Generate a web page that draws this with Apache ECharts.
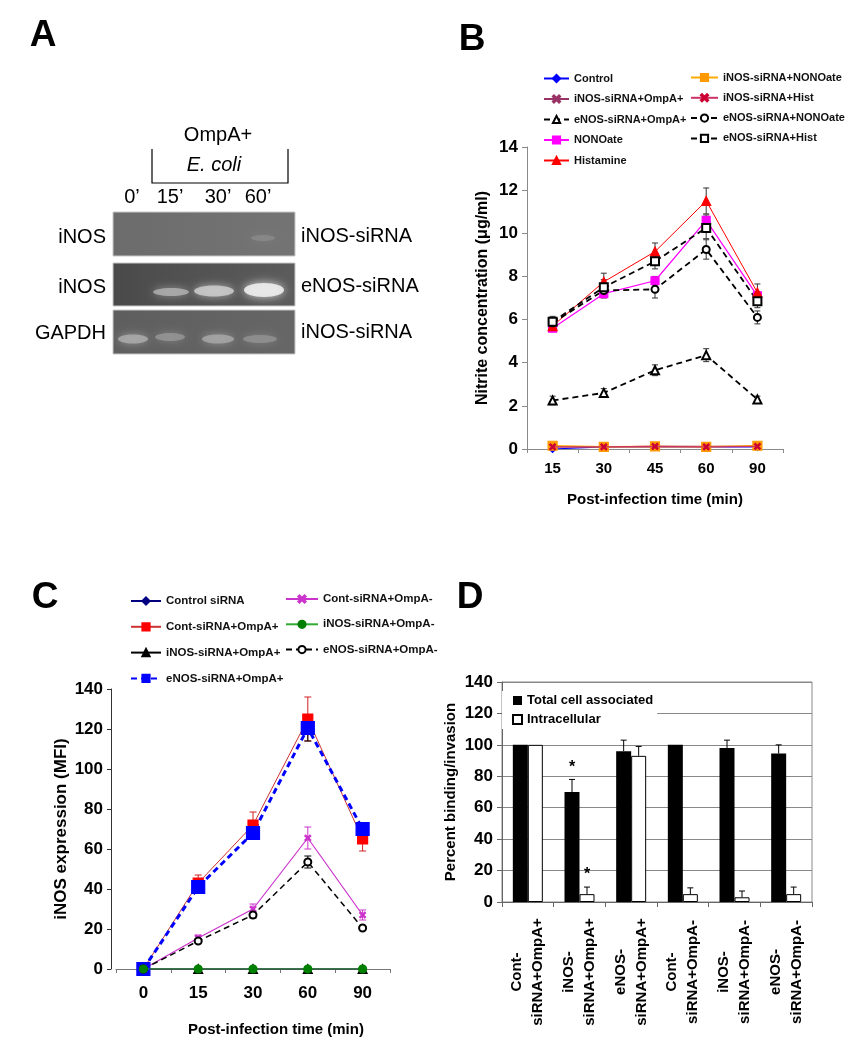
<!DOCTYPE html>
<html><head><meta charset="utf-8">
<script src="https://cdn.jsdelivr.net/npm/echarts@6/dist/echarts.min.js"></script>
<style>html,body{margin:0;padding:0;background:#fff}#c{width:850px;height:1050px}</style>
</head><body><div id="c"></div><script>
// ---------- Panel B data ----------
const timesB = ['15','30','45','60','90'];
const controlB = [0.0, 0.1, 0.1, 0.1, 0.1];
const inosOmpAB = [0.1, 0.1, 0.12, 0.12, 0.12];
const enosOmpAB = [2.25, 2.6, 3.65, 4.35, 2.3];
const enosOmpAErrB = [0.2, 0.2, 0.25, 0.3, 0.15];
const nonoateB = [5.6, 7.2, 7.8, 10.6, 7.1];
const nonoateErrB = [0.15, 0.2, 0.2, 0.25, 0.2];
const histamineB = [5.7, 7.75, 9.15, 11.5, 7.25];
const histamineErrB = [0.25, 0.4, 0.4, 0.6, 0.4];
const inosNonoB = [0.15, 0.1, 0.12, 0.1, 0.15];
const inosHistB = [0.1, 0.1, 0.12, 0.1, 0.12];
const enosNonoB = [5.85, 7.35, 7.4, 9.25, 6.1];
const enosNonoErrB = [0.2, 0.3, 0.4, 0.45, 0.3];
const enosHistB = [5.9, 7.5, 8.7, 10.25, 6.85];
const enosHistErrB = [0.25, 0.35, 0.35, 0.5, 0.3];

// ---------- Panel C data ----------
const timesC = ['0','15','30','60','90'];
const controlC = [0, 0, 0, 0, 0];
const contPlusC = [0, 43, 72, 125, 65];
const contPlusErrC = [0, 4, 6.5, 11, 6];
const inosPlusC = [0, 0, 0, 0, 0];
const enosPlusC = [0, 41, 68, 120.5, 70];
const enosPlusErrC = [0, 2, 3, 6.5, 3];
const contMinusC = [0, 15.5, 30, 65.5, 27];
const contMinusErrC = [0, 1.5, 2.5, 5.5, 2.5];
const inosMinusC = [0, 0, 0, 0, 0];
const enosMinusC = [0, 14, 27, 53.5, 20.5];
const enosMinusErrC = [0, 1, 1.5, 3, 1];

// ---------- Panel D data ----------
const groupsD = ['Cont-\nsiRNA+OmpA+','iNOS-\nsiRNA+OmpA+','eNOS-\nsiRNA+OmpA+','Cont-\nsiRNA+OmpA-','iNOS-\nsiRNA+OmpA-','eNOS-\nsiRNA+OmpA-'];
const totalD = [100, 70, 96, 100, 98, 94.5];
const totalErrD = [0, 8, 7, 0, 5, 5.5];
const intraD = [100, 5, 93, 5, 3, 5];
const intraErrD = [0, 4.5, 6, 4, 4, 4.5];
const sigTotalD = ['', '*', '', '', '', ''];
const sigIntraD = ['', '*', '', '', '', ''];

// ---------- Panel A text ----------
const laneLabelsA = ['0\u2019','15\u2019','30\u2019','60\u2019'];
const rowLabelsLeftA = ['iNOS','iNOS','GAPDH'];
const rowLabelsRightA = ['iNOS-siRNA','eNOS-siRNA','iNOS-siRNA'];

const ZW = '\u200b';
const FA = "'Liberation Sans',Arial,sans-serif";
const xMark = 'path://M0,1.5L1.5,0L5,3.5L8.5,0L10,1.5L6.5,5L10,8.5L8.5,10L5,6.5L1.5,10L0,8.5L3.5,5Z';

function line(name, data, ai, color, symbol, size, dashed, width, symColor, z) {
  return {
    type:'line', name, data, xAxisIndex: ai, yAxisIndex: ai,
    symbol, symbolSize: size, showSymbol: true, animation:false,
    lineStyle:{color, width, type: dashed ? [6,4] : 'solid'},
    itemStyle:{color: symColor || color, borderColor: symColor || color, borderWidth: 1.2},
    emphasis:{disabled:true}, z: z || 3
  };
}
function errS(means, errs, ai, color, cap) {
  return {
    type:'custom', xAxisIndex: ai, yAxisIndex: ai, silent:true, animation:false, z: 2,
    data: means.map((v,i)=>[i, v, errs[i]]), encode:{x:0, y:1},
    renderItem: (p, api) => {
      const i = api.value(0), v = api.value(1), e = api.value(2);
      if (!e) return null;
      const hi = api.coord([i, v + e]), lo = api.coord([i, v - e]);
      const st = {stroke: color, lineWidth: 1};
      return {type:'group', children:[
        {type:'line', shape:{x1:hi[0], y1:hi[1], x2:lo[0], y2:lo[1]}, style:st},
        {type:'line', shape:{x1:hi[0]-cap, y1:hi[1], x2:hi[0]+cap, y2:hi[1]}, style:st},
        {type:'line', shape:{x1:lo[0]-cap, y1:lo[1], x2:lo[0]+cap, y2:lo[1]}, style:st}
      ]};
    }
  };
}
function barErr(means, errs, sig, side) {
  return {
    type:'custom', xAxisIndex: 2, yAxisIndex: 2, silent:true, animation:false, z: 5,
    data: means.map((v,i)=>[i, v, errs[i]]), encode:{x:0, y:1},
    renderItem: (p, api) => {
      const i = api.value(0), v = api.value(1), e = api.value(2);
      const base = api.coord([i, v]), top = api.coord([i, v + e]);
      const x = base[0] + side * 7.5;
      const st = {stroke:'#000', lineWidth:1};
      const ch = [];
      if (e > 0) {
        ch.push({type:'line', shape:{x1:x, y1:base[1], x2:x, y2:top[1]}, style:st});
        ch.push({type:'line', shape:{x1:x-3, y1:top[1], x2:x+3, y2:top[1]}, style:st});
      }
      const s = sig[p.dataIndex];
      if (s) ch.push({type:'text', x:x, y:top[1]-4, style:{text:s, fontSize:16, fontWeight:'bold', fontFamily:FA, fill:'#000', align:'center', verticalAlign:'bottom'}});
      return {type:'group', children: ch};
    }
  };
}

const boldLbl = (size, margin) => ({color:'#000', fontSize:size, fontWeight:'bold', fontFamily:FA, margin});
const axName = (size) => ({color:'#000', fontSize:size, fontWeight:'bold', fontFamily:FA});

const series = [
  // ---- B ----
  errS(histamineB, histamineErrB, 0, '#333', 3),
  errS(nonoateB, nonoateErrB, 0, '#333', 3),
  errS(enosHistB, enosHistErrB, 0, '#333', 3),
  errS(enosNonoB, enosNonoErrB, 0, '#333', 3),
  errS(enosOmpAB, enosOmpAErrB, 0, '#333', 3),
  line('Control', controlB, 0, '#0000ff', 'diamond', 7, false, 1.2),
  line('iNOS-siRNA+OmpA+', inosOmpAB, 0, '#993366', xMark, 6, false, 1.2),
  line('eNOS-siRNA+OmpA+', enosOmpAB, 0, '#000', 'emptyTriangle', 8, true, 1.8),
  line('NONOate', nonoateB, 0, '#ff00ff', 'rect', 8, false, 1.2),
  line('Histamine', histamineB, 0, '#ff0000', 'triangle', 9, false, 1),
  line('iNOS-siRNA+NONOate', inosNonoB, 0, '#ffaa00', 'rect', 9, false, 1.5, '#ff9900'),
  line('iNOS-siRNA+Hist', inosHistB, 0, '#cc3366', xMark, 6, false, 1.2, '#cc0033', 4),
  line('eNOS-siRNA+NONOate', enosNonoB, 0, '#000', 'emptyCircle', 7, true, 1.8),
  line('eNOS-siRNA+Hist', enosHistB, 0, '#000', 'emptyRect', 8, true, 1.8),
  // ---- C ----
  errS(contPlusC, contPlusErrC, 1, '#d02020', 3.5),
  errS(enosPlusC, enosPlusErrC, 1, '#000', 3.5),
  errS(contMinusC, contMinusErrC, 1, '#cc33cc', 3.5),
  errS(enosMinusC, enosMinusErrC, 1, '#000', 3.5),
  line('Control siRNA', controlC, 1, '#000080', 'diamond', 6, false, 1.2),
  line('iNOS-siRNA+OmpA+' + ZW, inosPlusC, 1, '#000', 'triangle', 9, false, 1.2),
  line('Cont-siRNA+OmpA+', contPlusC, 1, '#cc3333', 'rect', 10, false, 1, '#ff0000'),
  line('eNOS-siRNA+OmpA+' + ZW, enosPlusC, 1, '#0000ff', 'rect', 13, true, 3),
  line('Cont-siRNA+OmpA-', contMinusC, 1, '#cc33cc', xMark, 6, false, 1.2),
  line('eNOS-siRNA+OmpA-', enosMinusC, 1, '#000', 'emptyCircle', 7, true, 1.5),
  line('iNOS-siRNA+OmpA-', inosMinusC, 1, '#33aa33', 'circle', 8, false, 1.2, '#008000', 5),
  // ---- D ----
  {type:'bar', name:'Total cell associated', data: totalD, xAxisIndex:2, yAxisIndex:2, barWidth:15, barGap:'0%',
   itemStyle:{color:'#000'}, animation:false, z:3},
  {type:'bar', name:'Intracellular', data: intraD, xAxisIndex:2, yAxisIndex:2, barWidth:15, barGap:'0%',
   itemStyle:{color:'#fff', borderColor:'#000', borderWidth:1}, animation:false, z:3},
  barErr(totalD, totalErrD, sigTotalD, -1),
  barErr(intraD, intraErrD, sigIntraD, 1)
];

const legText = (size) => ({fontFamily:FA, fontSize:size, fontWeight:'bold', color:'#111'});
const legBase = {orient:'vertical', padding:0, selectedMode:false, itemHeight:9};

// ---------- Panel A graphics ----------
const gel = [];
function T(text, x, y, opt) {
  return {type:'text', x, y, silent:true, style:Object.assign({text, fill:'#000', fontSize:20, fontFamily:FA, align:'center', verticalAlign:'middle'}, opt||{})};
}
function grad(c1, c2) { return new echarts.graphic.LinearGradient(0,0,1,0,[{offset:0,color:c1},{offset:1,color:c2}]); }
gel.push({type:'rect', silent:true, shape:{x:113,y:212,width:182,height:44}, style:{fill:grad('#6c6c6c','#747474'), stroke:'#c8c8c8', lineWidth:1}});
gel.push({type:'rect', silent:true, shape:{x:113,y:263,width:182,height:43}, style:{fill:grad('#4a4a4a','#5c5c5c'), stroke:'#c8c8c8', lineWidth:1}});
gel.push({type:'rect', silent:true, shape:{x:113,y:310,width:182,height:44}, style:{fill:grad('#5e5e5e','#666666'), stroke:'#c8c8c8', lineWidth:1}});
const band = (cx, cy, rx, ry, fill, blur) => ({type:'ellipse', silent:true, shape:{cx, cy, rx, ry}, style:{fill, shadowBlur:blur, shadowColor:fill}});
gel.push(band(263, 238, 12, 3, 'rgba(150,150,150,0.5)', 6));
gel.push(band(171, 292, 18, 4, 'rgba(180,180,180,0.8)', 9));
gel.push(band(214, 291, 20, 5.5, 'rgba(205,205,205,0.85)', 9));
gel.push(band(264, 290, 20, 7, 'rgba(235,235,235,0.92)', 10));
gel.push(band(133, 339, 15, 4.5, 'rgba(175,175,175,0.8)', 9));
gel.push(band(170, 337, 15, 4, 'rgba(155,155,155,0.75)', 9));
gel.push(band(218, 339, 16, 4.5, 'rgba(170,170,170,0.8)', 9));
gel.push(band(260, 339, 17, 4, 'rgba(150,150,150,0.75)', 9));
gel.push(T('OmpA+', 218, 135));
gel.push({type:'polyline', silent:true, shape:{points:[[152,149],[152,183],[288,183],[288,149]]}, style:{stroke:'#000', lineWidth:1.2, fill:null}});
gel.push(T('E. coli', 214, 165, {fontStyle:'italic'}));
const laneX = [132, 170, 218, 258];
laneLabelsA.forEach((t,i)=>gel.push(T(t, laneX[i], 197)));
const rowY = [237, 287, 333];
rowLabelsLeftA.forEach((t,i)=>gel.push(T(t, 106, rowY[i], {align:'right'})));
rowLabelsRightA.forEach((t,i)=>gel.push(T(t, 301, rowY[i]-1, {align:'left'})));
// panel letters
[['A',43,36],['B',472,40],['C',45,598],['D',470,598]].forEach(([t,x,y])=>gel.push(T(t,x,y,{fontSize:37, fontWeight:'bold'})));
// C axis name
gel.push(T('Post-infection time (min)', 276, 1030, {fontSize:15, fontWeight:'bold'}));

const option = {
  backgroundColor:'#fff',
  animation:false,
  grid:[
    {left:527, top:147, width:256, height:302, outerBoundsMode:'none'},
    {left:116, top:689, width:274, height:280, outerBoundsMode:'none'},
    {left:502, top:682, width:310, height:220, outerBoundsMode:'none', show:true, borderColor:'#888', borderWidth:1, backgroundColor:'transparent'}
  ],
  xAxis:[
    {gridIndex:0, type:'category', data:timesB, boundaryGap:true,
     axisLine:{show:true, lineStyle:{color:'#8a8a8a', width:1}},
     axisTick:{show:true, length:4, lineStyle:{color:'#8a8a8a'}},
     axisLabel:Object.assign(boldLbl(15, 12), {interval:0}),
     splitLine:{show:false},
     name:'Post-infection time (min)', nameLocation:'middle', nameGap:43, nameTextStyle:axName(15)},
    {gridIndex:1, type:'category', data:timesC, boundaryGap:true,
     axisLine:{show:true, lineStyle:{color:'#777', width:1}},
     axisTick:{show:true, length:4, lineStyle:{color:'#777'}},
     axisLabel:Object.assign(boldLbl(17, 16), {interval:0}),
     splitLine:{show:false}},
    {gridIndex:2, type:'category', data:groupsD, boundaryGap:true,
     axisLine:{show:true, lineStyle:{color:'#666', width:1}},
     axisTick:{show:true, length:5, lineStyle:{color:'#666'}},
     axisLabel:{interval:0, rotate:90, margin:14, color:'#000',
       formatter: v => v.split('\n').map(s => '{a|' + s + '}').join('\n'),
       rich:{a:{width:112, align:'center', fontSize:15, fontWeight:'bold', fontFamily:FA, lineHeight:21, color:'#000'}}},
     splitLine:{show:false}}
  ],
  yAxis:[
    {gridIndex:0, type:'value', min:0, max:14, interval:2,
     axisLine:{show:true, lineStyle:{color:'#8a8a8a', width:1}},
     axisTick:{show:true, length:5, lineStyle:{color:'#8a8a8a'}},
     axisLabel:boldLbl(17, 9), splitLine:{show:false},
     name:'Nitrite concentration (\u03bcg/ml)', nameLocation:'middle', nameGap:36, nameTextStyle:axName(16)},
    {gridIndex:1, type:'value', min:0, max:140, interval:20, offset:5,
     axisLine:{show:true, lineStyle:{color:'#333', width:1}},
     axisTick:{show:true, length:4, lineStyle:{color:'#333'}},
     axisLabel:boldLbl(17, 8), splitLine:{show:false},
     name:'iNOS expression (MFI)', nameLocation:'middle', nameGap:41, nameTextStyle:axName(17)},
    {gridIndex:2, type:'value', min:0, max:140, interval:20,
     axisLine:{show:true, lineStyle:{color:'#666', width:1}},
     axisTick:{show:true, length:5, lineStyle:{color:'#666'}},
     axisLabel:boldLbl(17, 9), splitLine:{show:true, lineStyle:{color:'#888', width:1}},
     name:'Percent binding/invasion', nameLocation:'middle', nameGap:44, nameTextStyle:axName(15)}
  ],
  legend:[
    Object.assign({}, legBase, {data:['Control','iNOS-siRNA+OmpA+','eNOS-siRNA+OmpA+','NONOate','Histamine'],
      left:543, top:73, itemWidth:25, itemGap:9.5, textStyle:legText(11)}),
    Object.assign({}, legBase, {data:['iNOS-siRNA+NONOate','iNOS-siRNA+Hist','eNOS-siRNA+NONOate','eNOS-siRNA+Hist'],
      left:690, top:72, itemWidth:27, itemGap:9.3, textStyle:legText(11)}),
    Object.assign({}, legBase, {data:['Control siRNA','Cont-siRNA+OmpA+','iNOS-siRNA+OmpA+'+ZW,'eNOS-siRNA+OmpA+'+ZW],
      left:130, top:595, itemWidth:30, itemGap:13.8, textStyle:legText(11.5), formatter: n => n.replace(ZW,'')}),
    Object.assign({}, legBase, {data:['Cont-siRNA+OmpA-','iNOS-siRNA+OmpA-','eNOS-siRNA+OmpA-'],
      left:285, top:593, itemWidth:32, itemGap:13.3, textStyle:legText(11.5)}),
    {data:['Total cell associated','Intracellular'], orient:'vertical', left:502, top:691, icon:'rect',
     itemWidth:9, itemHeight:9, itemGap:6, padding:[3,4,3,10], backgroundColor:'#fff', selectedMode:false,
     textStyle:{fontFamily:FA, fontSize:13, fontWeight:'bold', color:'#000'}}
  ],
  graphic:{elements: gel},
  series
};
const chart = echarts.init(document.getElementById('c'), null, {renderer:'canvas'});
chart.setOption(option);
</script></body></html>
